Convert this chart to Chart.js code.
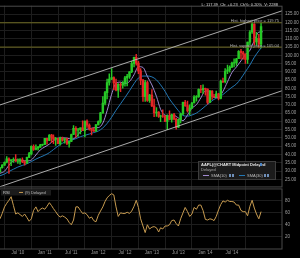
<!DOCTYPE html>
<html>
<head>
<meta charset="utf-8">
<script src="https://cdn.jsdelivr.net/npm/chart.js@4.4.1/dist/chart.umd.min.js"></script>
<style>
    html, body { margin: 0; padding: 0; background: #000; }
    #wrap { width: 300px; height: 258px; position: relative; }
</style>
</head>
<body>
<div id="wrap"><canvas id="chart"></canvas></div>
<script>
// Semi-monthly candles, AAPL (split adjusted).
const candleDates = [
    '2010-03-01', '2010-03-16', '2010-04-01', '2010-04-16', '2010-05-01', '2010-05-16', '2010-06-01', '2010-06-16',
    '2010-07-01', '2010-07-16', '2010-08-01', '2010-08-16', '2010-09-01', '2010-09-16', '2010-10-01', '2010-10-16',
    '2010-11-01', '2010-11-16', '2010-12-01', '2010-12-16', '2011-01-01', '2011-01-16', '2011-02-01', '2011-02-16',
    '2011-03-01', '2011-03-16', '2011-04-01', '2011-04-16', '2011-05-01', '2011-05-16', '2011-06-01', '2011-06-16',
    '2011-07-01', '2011-07-16', '2011-08-01', '2011-08-16', '2011-09-01', '2011-09-16', '2011-10-01', '2011-10-16',
    '2011-11-01', '2011-11-16', '2011-12-01', '2011-12-16', '2012-01-01', '2012-01-16', '2012-02-01', '2012-02-16',
    '2012-03-01', '2012-03-16', '2012-04-01', '2012-04-16', '2012-05-01', '2012-05-16', '2012-06-01', '2012-06-16',
    '2012-07-01', '2012-07-16', '2012-08-01', '2012-08-16', '2012-09-01', '2012-09-16', '2012-10-01', '2012-10-16',
    '2012-11-01', '2012-11-16', '2012-12-01', '2012-12-16', '2013-01-01', '2013-01-16', '2013-02-01', '2013-02-16',
    '2013-03-01', '2013-03-16', '2013-04-01', '2013-04-16', '2013-05-01', '2013-05-16', '2013-06-01', '2013-06-16',
    '2013-07-01', '2013-07-16', '2013-08-01', '2013-08-16', '2013-09-01', '2013-09-16', '2013-10-01', '2013-10-16',
    '2013-11-01', '2013-11-16', '2013-12-01', '2013-12-16', '2014-01-01', '2014-01-16', '2014-02-01', '2014-02-16',
    '2014-03-01', '2014-03-16', '2014-04-01', '2014-04-16', '2014-05-01', '2014-05-16', '2014-06-01', '2014-06-16',
    '2014-07-01', '2014-07-16', '2014-08-01', '2014-08-16', '2014-09-01', '2014-09-16', '2014-10-01', '2014-10-16',
    '2014-11-01', '2014-11-16', '2014-12-01', '2014-12-16', '2015-01-01', '2015-01-16'
];
const opens = [
    29.4, 32.0, 33.6, 35.3, 37.3, 36.3, 36.7, 37.1, 35.9, 35.9, 36.8, 35.6, 34.7, 38.3, 40.5, 45.0,
    43.0, 43.9, 44.5, 45.8, 46.1, 49.8, 48.5, 51.8, 50.5, 49.3, 49.8, 46.6, 50.0, 48.6, 49.7, 46.7,
    47.9, 52.1, 55.8, 54.8, 55.0, 56.1, 54.5, 60.3, 57.8, 55.5, 54.6, 54.1, 57.9, 60.0, 65.2, 71.1,
    77.5, 83.6, 85.6, 86.5, 83.4, 79.0, 82.5, 82.0, 83.4, 86.4, 87.3, 90.1, 95.0, 98.8, 95.3, 90.6,
    85.0, 75.0, 83.6, 72.8, 76.0, 69.4, 65.1, 65.7, 63.1, 63.4, 63.2, 60.0, 63.3, 61.2, 64.2, 61.4,
    56.6, 61.1, 64.6, 71.6, 69.6, 66.4, 68.1, 71.2, 74.7, 75.0, 79.4, 79.1, 80.1, 79.6, 71.5, 78.4,
    75.2, 74.9, 76.7, 73.9, 84.3, 84.1, 90.4, 91.3, 92.9, 95.3, 95.6, 98.0, 102.5, 101.6, 100.8, 97.5,
    108.0, 114.2, 118.9, 108.2, 110.4, 106.8
];
const highs = [
    32.3, 33.9, 35.5, 38.7, 38.0, 36.9, 38.0, 39.9, 37.4, 37.6, 38.0, 36.2, 38.5, 41.3, 45.2, 45.8,
    45.9, 45.0, 46.1, 46.3, 49.8, 49.9, 52.0, 52.2, 51.9, 50.4, 49.9, 50.5, 50.6, 49.7, 50.0, 48.0,
    52.3, 57.5, 56.9, 55.9, 56.1, 60.4, 60.3, 61.0, 58.6, 55.9, 56.3, 58.3, 60.4, 65.6, 75.1, 78.2,
    85.7, 88.8, 92.0, 87.0, 85.6, 82.9, 83.4, 84.1, 87.4, 88.5, 90.2, 96.4, 99.0, 100.7, 96.4, 92.0,
    85.5, 84.9, 84.4, 76.4, 79.3, 73.6, 68.4, 66.0, 63.8, 67.0, 63.5, 64.0, 66.5, 64.5, 65.0, 62.1,
    61.3, 65.0, 71.8, 72.8, 72.4, 70.0, 71.6, 75.7, 75.6, 79.7, 81.9, 82.2, 80.2, 79.8, 78.8, 78.7,
    76.4, 78.4, 77.1, 85.0, 86.3, 92.0, 94.1, 93.7, 96.0, 97.9, 98.2, 102.9, 103.7, 102.4, 101.0, 108.0,
    115.0, 119.75, 119.3, 113.9, 112.8, 119.6
];
const lows = [
    29.3, 31.7, 33.4, 34.9, 28.5, 33.2, 35.2, 35.8, 34.6, 34.1, 35.0, 33.6, 34.6, 38.1, 39.8, 42.5,
    42.7, 42.6, 44.3, 45.4, 46.0, 46.3, 48.4, 47.3, 46.6, 45.5, 46.5, 45.7, 48.0, 46.9, 46.0, 44.4,
    47.8, 52.0, 50.4, 50.9, 52.5, 54.4, 50.6, 56.4, 54.8, 51.9, 54.0, 54.0, 57.9, 59.0, 64.9, 70.0,
    73.7, 82.0, 85.3, 79.3, 78.5, 74.6, 78.0, 80.1, 81.4, 81.6, 86.0, 89.5, 93.0, 94.1, 88.9, 82.3,
    72.1, 72.1, 72.2, 71.6, 69.0, 62.9, 63.1, 62.5, 59.9, 62.4, 59.9, 55.0, 61.0, 59.6, 61.0, 55.4,
    56.3, 59.1, 64.0, 69.1, 65.7, 63.9, 67.9, 71.2, 72.3, 74.5, 77.5, 77.0, 75.9, 70.5, 71.4, 73.4,
    74.6, 74.7, 73.0, 73.6, 83.5, 83.3, 88.9, 89.9, 92.6, 93.0, 93.9, 98.0, 97.8, 97.7, 95.2, 95.2,
    106.5, 113.3, 106.3, 106.3, 104.6, 104.6
];
const closes = [
    32.0, 33.6, 35.3, 37.3, 36.3, 36.7, 37.1, 35.9, 35.9, 36.8, 35.6, 34.7, 38.3, 40.5, 45.0, 43.0,
    43.9, 44.5, 45.8, 46.1, 49.8, 48.5, 51.8, 50.5, 49.3, 49.8, 46.6, 50.0, 48.6, 49.7, 46.7, 47.9,
    52.1, 55.8, 54.8, 55.0, 56.1, 54.5, 60.3, 57.8, 55.5, 54.6, 54.1, 57.9, 60.0, 65.2, 71.1, 77.5,
    83.6, 85.6, 86.5, 83.4, 79.0, 82.5, 82.0, 83.4, 86.4, 87.3, 90.1, 95.0, 98.8, 95.3, 90.6, 85.0,
    75.0, 83.6, 72.8, 76.0, 69.4, 65.1, 65.7, 63.1, 63.4, 63.2, 60.0, 63.3, 61.2, 64.2, 61.4, 56.6,
    61.1, 64.6, 71.6, 69.6, 66.4, 68.1, 71.2, 74.7, 75.0, 79.4, 79.1, 80.1, 79.6, 71.5, 78.4, 75.2,
    74.9, 76.7, 73.9, 84.3, 84.1, 90.4, 91.3, 92.9, 95.3, 95.6, 98.0, 102.5, 101.6, 100.8, 97.5, 108.0,
    114.2, 118.9, 108.2, 110.4, 106.8, 117.4
];

// Moving averages, one reading per month.
const smaDates = [
    '2010-03-01', '2010-04-01', '2010-05-01', '2010-06-01', '2010-07-01', '2010-08-01', '2010-09-01', '2010-10-01',
    '2010-11-01', '2010-12-01', '2011-01-01', '2011-02-01', '2011-03-01', '2011-04-01', '2011-05-01', '2011-06-01',
    '2011-07-01', '2011-08-01', '2011-09-01', '2011-10-01', '2011-11-01', '2011-12-01', '2012-01-01', '2012-02-01',
    '2012-03-01', '2012-04-01', '2012-05-01', '2012-06-01', '2012-07-01', '2012-08-01', '2012-09-01', '2012-10-01',
    '2012-11-01', '2012-12-01', '2013-01-01', '2013-02-01', '2013-03-01', '2013-04-01', '2013-05-01', '2013-06-01',
    '2013-07-01', '2013-08-01', '2013-09-01', '2013-10-01', '2013-11-01', '2013-12-01', '2014-01-01', '2014-02-01',
    '2014-03-01', '2014-04-01', '2014-05-01', '2014-06-01', '2014-07-01', '2014-08-01', '2014-09-01', '2014-10-01',
    '2014-11-01', '2014-12-01', '2015-01-01', '2015-01-28'
];
const sma10 = [
    28.6, 29.9, 33.5, 36.3, 36.7, 36.4, 36.1, 36.7, 39.7, 42.8, 44.6, 46.3, 48.4, 49.9, 50.1, 49.9,
    49.4, 50.4, 53.7, 55.1, 55.5, 56.2, 56.3, 59.0, 66.5, 76.5, 83.1, 83.8, 83.0, 84.2, 88.3, 93.2,
    92.7, 87.3, 82.1, 75.2, 67.4, 63.7, 63.3, 63.6, 62.1, 60.5, 63.9, 68.0, 70.2, 74.3, 78.5, 77.8,
    74.6, 74.7, 78.3, 84.0, 89.6, 93.0, 96.7, 100.4, 103.1, 109.0, 114.1, 114.3
];
const sma30 = [
    27.1, 28.2, 29.7, 31.1, 32.4, 33.4, 34.4, 35.7, 37.2, 38.4, 39.6, 41.1, 43.0, 45.1, 46.8, 48.0,
    48.7, 49.6, 50.8, 51.6, 52.4, 53.3, 54.2, 56.1, 58.8, 62.6, 66.8, 70.7, 74.5, 78.6, 82.9, 86.3,
    87.5, 87.5, 87.0, 85.2, 82.2, 78.2, 73.6, 69.9, 66.5, 63.7, 63.2, 63.9, 65.1, 67.0, 69.3, 71.5,
    73.4, 74.6, 76.3, 78.6, 80.7, 82.7, 86.1, 90.1, 94.2, 98.9, 102.8, 105.9
];

// RSI(9), one reading per candle.
const rsiValues = [
    50, 59, 70, 76, 81, 87, 72, 58, 60, 57, 54, 58, 52, 46, 50, 64,
    70, 62, 66, 68, 66, 71, 77, 72, 67, 62, 56, 53, 55, 53, 50, 44,
    40, 48, 70, 70, 64, 59, 60, 57, 51, 53, 47, 45, 56, 63, 70, 79,
    85, 89, 92, 90, 70, 54, 60, 59, 59, 61, 59, 63, 71, 81, 69, 50,
    38, 27, 40, 33, 36, 37, 35, 28, 35, 33, 38, 38, 40, 47, 48, 42,
    38, 50, 60, 69, 62, 54, 58, 69, 66, 73, 73, 64, 49, 48, 50, 49,
    47, 54, 65, 74, 80, 78, 81, 79, 79, 78, 73, 73, 64, 62, 62, 55,
    71, 81, 68, 58, 50, 62
];

// Trend channel and horizontal levels.
const channelDates = ['2010-03-01', '2015-06-08'];
const upperChannel = [70.0, 127.0];
const lowerChannel = [20.5, 78.6];
const levelPrices = [119.75, 105.04];
const levelLabels = ['Hist. highest price = 119.75', 'Hist. support price = 105.04'];

// Axes.
const tickDates = ['2010-07-01', '2011-01-01', '2011-07-01', '2012-01-01', '2012-07-01',
    '2013-01-01', '2013-07-01', '2014-01-01', '2014-07-01'];
const tickLabels = ["Jul '10", "Jan '11", "Jul '11", "Jan '12", "Jul '12", "Jan '13", "Jul '13", "Jan '14", "Jul '14"];
const priceTicks = [25, 30, 35, 40, 45, 50, 55, 60, 65, 70, 75, 80, 85, 90, 95, 100, 105, 110, 115, 120, 125];
const rsiTicks = [20, 40, 60, 80];

const FONT = '"Liberation Sans", Arial, sans-serif';
const UP = '#27c927';
const DOWN = '#e42626';
const ms = d => Date.parse(d);

const candleColors = closes.map((c, i) => c >= opens[i] ? UP : DOWN);
const points = (dates, values) => dates.map((d, i) => ({x: ms(d), y: values[i]}));

function lineSet(data, color, axis, extra) {
    return Object.assign({
        type: 'line', data, yAxisID: axis, borderColor: color, borderWidth: 1,
        pointRadius: 0, fill: false, tension: 0
    }, extra || {});
}

// Texts, boxes and panel borders drawn on top of the chart.
const overlay = {
    id: 'overlay',
    beforeDraw(chart) {
        const ctx = chart.ctx;
        ctx.save();
        ctx.fillStyle = '#000';
        ctx.fillRect(0, 0, chart.width, chart.height);
        ctx.restore();
    },
    afterDraw(chart) {
        const ctx = chart.ctx;
        const ys = chart.scales.y, rs = chart.scales.rsi, xs = chart.scales.x;
        ctx.save();

        // panel borders
        ctx.strokeStyle = '#4a4a4a';
        ctx.lineWidth = 1;
        ctx.strokeRect(xs.left - 0.5, ys.top + 0.5, xs.right - xs.left + 0.5, ys.bottom - ys.top - 1);
        ctx.strokeRect(xs.left - 0.5, rs.top + 1.5, xs.right - xs.left + 0.5, rs.bottom - rs.top - 1.5);

        // header
        ctx.font = '4px ' + FONT;
        ctx.fillStyle = '#d8d8d8';
        ctx.textAlign = 'right';
        ctx.textBaseline = 'middle';
        ctx.fillText('L: 117.39  Ch: +0.23  Ch%: 0.20%  V: 2288', 278, 5);

        // level labels
        ctx.fillStyle = '#b8b8b8';
        levelPrices.forEach((p, i) => {
            ctx.fillText(levelLabels[i], 279, ys.getPixelForValue(p) - 1.5);
        });

        // main legend
        ctx.fillStyle = '#1b1b1b';
        ctx.fillRect(198, 161, 78, 19);
        ctx.strokeStyle = '#3d3d3d';
        ctx.strokeRect(198.5, 161.5, 77, 18);
        ctx.textAlign = 'left';
        ctx.fillStyle = '#e6e6e6';
        ctx.font = 'bold 4px ' + FONT;
        ctx.fillText('AAPL(@CHART Midpoint Delayed', 201, 164.5);
        ctx.fillStyle = '#4d86c6';
        ctx.fillRect(260, 163, 2, 3);
        ctx.font = '4px ' + FONT;
        ctx.fillStyle = '#a8a8a8';
        ctx.fillText('Delayed', 201, 170);
        ctx.fillStyle = '#a08ad0';
        ctx.fillRect(203, 175, 6, 1);
        ctx.fillStyle = '#bdbdbd';
        ctx.fillText('SMA(10)', 211, 175.5);
        ctx.fillStyle = '#2378b5';
        ctx.fillRect(239, 175, 6, 1);
        ctx.fillStyle = '#bdbdbd';
        ctx.fillText('SMA(30)', 247, 175.5);
        ctx.fillStyle = '#6f8fb8';
        ctx.fillRect(229, 174, 2, 3);
        ctx.fillRect(232, 174, 2, 3);
        ctx.fillRect(264, 174, 2, 3);
        ctx.fillRect(267, 174, 2, 3);

        // RSI legend
        ctx.fillStyle = '#1b1b1b';
        ctx.fillRect(1, rs.top + 2, 50, 6);
        ctx.fillStyle = '#d0d0d0';
        ctx.fillText('RSI', 3, rs.top + 5);
        ctx.fillStyle = '#c79b50';
        ctx.fillRect(19, rs.top + 4.5, 4, 1);
        ctx.fillStyle = '#bdbdbd';
        ctx.fillText('(9) Delayed', 25, rs.top + 5);
        ctx.restore();
    }
};

new Chart(document.getElementById('chart'), {
    type: 'bar',
    data: {
        datasets: [
            lineSet(points(channelDates, upperChannel), '#bdbdbd', 'y', {borderWidth: 0.9}),
            lineSet(points(channelDates, lowerChannel), '#bdbdbd', 'y', {borderWidth: 0.9}),
            lineSet(points(channelDates, [levelPrices[0], levelPrices[0]]), '#6e6a22', 'y'),
            lineSet(points(channelDates, [levelPrices[1], levelPrices[1]]), '#6e6a22', 'y'),
            {
                type: 'bar', yAxisID: 'y', grouped: false, barThickness: 0.8,
                data: candleDates.map((d, i) => ({x: ms(d), y: [lows[i], highs[i]]})),
                backgroundColor: candleColors, borderWidth: 0
            },
            {
                type: 'bar', yAxisID: 'y', grouped: false, barThickness: 1.8,
                data: candleDates.map((d, i) => ({x: ms(d), y: [opens[i], closes[i]]})),
                backgroundColor: candleColors, borderWidth: 0
            },
            lineSet(points(smaDates, sma10), '#a08ad0', 'y', {cubicInterpolationMode: 'monotone'}),
            lineSet(points(smaDates, sma30), '#2378b5', 'y', {cubicInterpolationMode: 'monotone'}),
            lineSet(points(candleDates, rsiValues), '#c79b50', 'rsi')
        ]
    },
    options: {
        responsive: true,
        maintainAspectRatio: false,
        animation: false,
        devicePixelRatio: 1,
        layout: {padding: 0},
        plugins: {legend: {display: false}, tooltip: {enabled: false}},
        scales: {
            x: {
                type: 'linear', offset: false,
                min: ms('2010-03-01'), max: ms('2015-06-08'),
                grid: {color: '#1d1d1d', drawTicks: false},
                border: {display: false},
                afterBuildTicks: s => { s.ticks = tickDates.map(d => ({value: ms(d)})); },
                afterFit: s => { s.height = 9; },
                ticks: {
                    color: '#9a9a9a', font: {size: 4.5, family: FONT}, padding: 1,
                    maxRotation: 0, autoSkip: false,
                    callback: (v, i) => tickLabels[i]
                }
            },
            y: {
                type: 'linear', position: 'right', stack: 'panes', stackWeight: 186,
                min: 20.05, max: 130.1,
                grid: {color: '#1d1d1d', drawTicks: false},
                border: {display: false},
                afterBuildTicks: s => { s.ticks = priceTicks.map(v => ({value: v})); },
                afterFit: s => { s.width = 18; },
                ticks: {
                    color: '#a0a0a0', font: {size: 4.5, family: FONT}, padding: 3,
                    autoSkip: false,
                    callback: v => v.toFixed(2)
                }
            },
            rsi: {
                type: 'linear', position: 'right', stack: 'panes', stackWeight: 63,
                min: -0.5, max: 102.5,
                grid: {color: '#1d1d1d', drawTicks: false},
                border: {display: false},
                afterBuildTicks: s => { s.ticks = rsiTicks.map(v => ({value: v})); },
                afterFit: s => { s.width = 18; },
                ticks: {color: '#a0a0a0', font: {size: 4.5, family: FONT}, padding: 3, autoSkip: false}
            }
        }
    },
    plugins: [overlay]
});
</script>
</body>
</html>
